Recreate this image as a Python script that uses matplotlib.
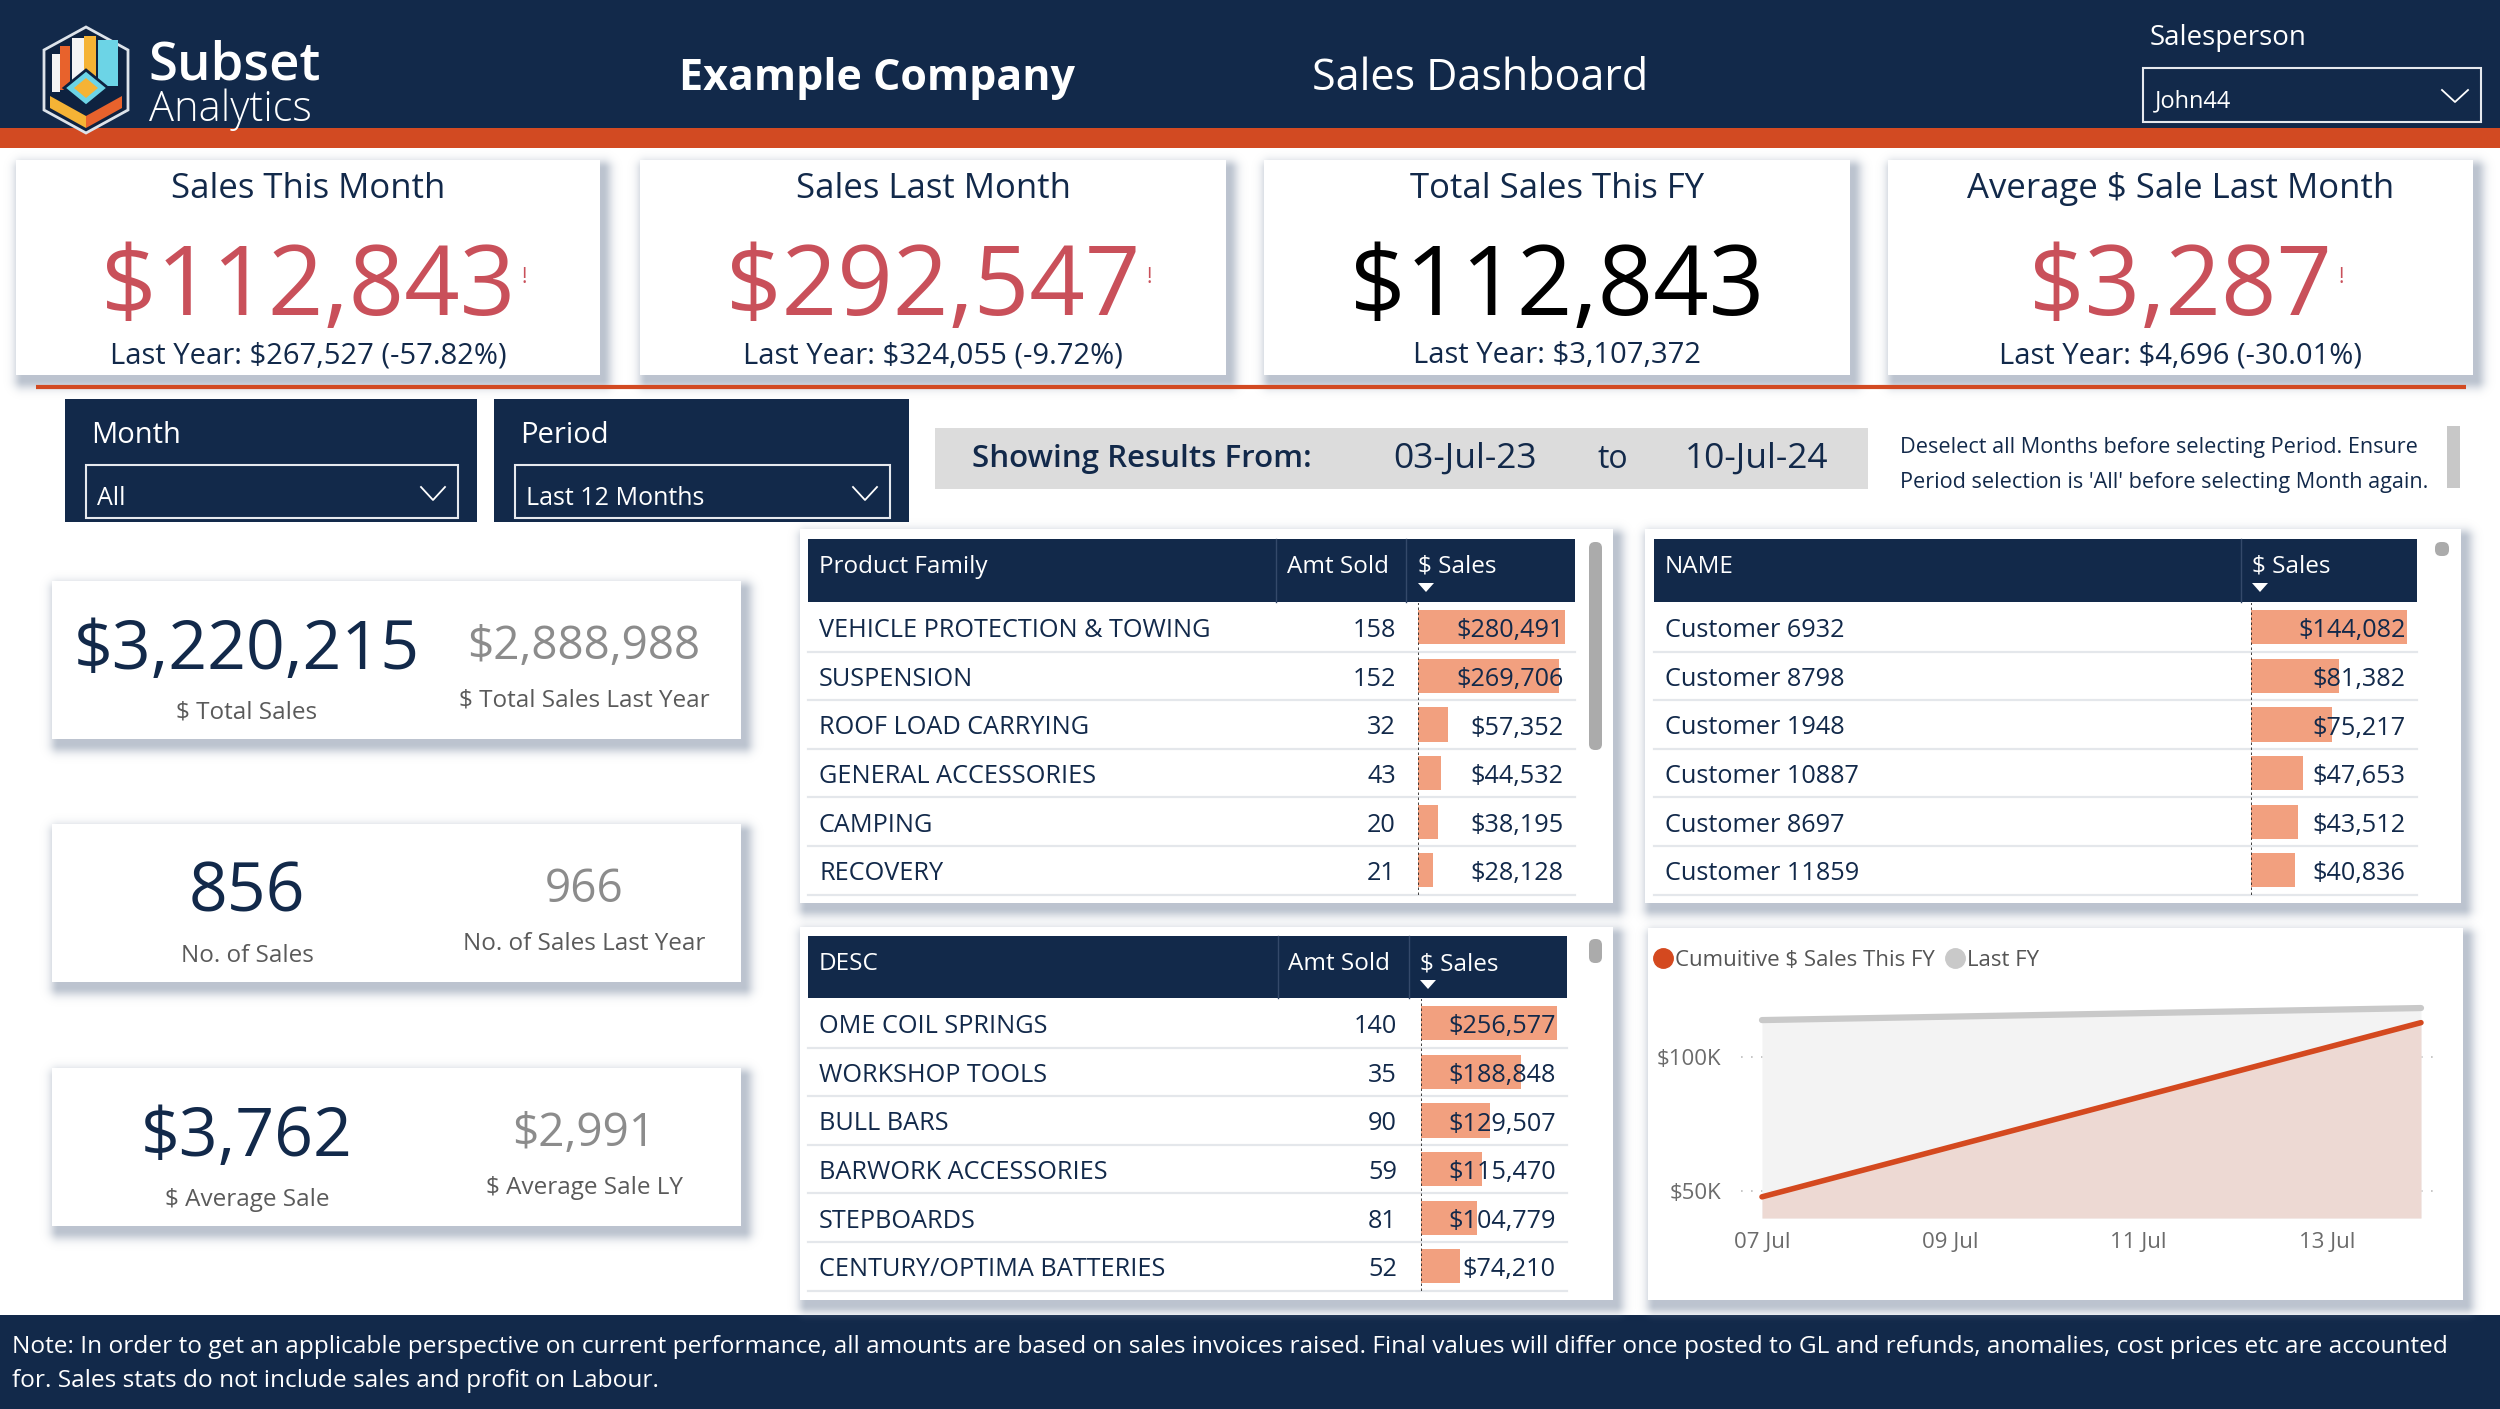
import matplotlib
matplotlib.use('Agg')
import matplotlib.pyplot as plt
from matplotlib.patches import Rectangle, Polygon, FancyBboxPatch
from matplotlib.lines import Line2D
import matplotlib.transforms as mtransforms
import matplotlib.dates as mdates
import matplotlib.colors as mcolors
import numpy as np
import datetime as dt

plt.rcParams['font.family'] = ['Open Sans', 'DejaVu Sans']

W, H = 2500, 1409
NAVY = '#12294A'
ORANGE = '#D24A22'
RED = '#C9505A'
SALMON = '#F2A07F'
GREY_VAL = '#8C8C8C'
LABEL_GREY = '#5A5A5A'

# ---------------- data ----------------
company = 'Example Company'
dashboard = 'Sales Dashboard'
salesperson = 'John44'

kpi_titles = ['Sales This Month', 'Sales Last Month', 'Total Sales This FY', 'Average $ Sale Last Month']
kpi_values = [112843, 292547, 112843, 3287]
kpi_last_year = [267527, 324055, 3107372, 4696]
kpi_pct = [-57.82, -9.72, None, -30.01]
kpi_flag = [True, True, False, True]

month_sel = 'All'
period_sel = 'Last 12 Months'
date_from = '03-Jul-23'
date_to = '10-Jul-24'
note_lines = ["Deselect all Months before selecting Period. Ensure",
              "Period selection is 'All' before selecting Month again."]

summary_labels = ['$ Total Sales', 'No. of Sales', '$ Average Sale']
summary_ly_labels = ['$ Total Sales Last Year', 'No. of Sales Last Year', '$ Average Sale LY']
summary_values = [3220215, 856, 3762]
summary_ly_values = [2888988, 966, 2991]
summary_money = [True, False, True]

family_names = ['VEHICLE PROTECTION & TOWING', 'SUSPENSION', 'ROOF LOAD CARRYING',
                'GENERAL ACCESSORIES', 'CAMPING', 'RECOVERY']
family_amt = [158, 152, 32, 43, 20, 21]
family_sales = [280491, 269706, 57352, 44532, 38195, 28128]

customer_names = ['Customer 6932', 'Customer 8798', 'Customer 1948',
                  'Customer 10887', 'Customer 8697', 'Customer 11859']
customer_sales = [144082, 81382, 75217, 47653, 43512, 40836]

desc_names = ['OME COIL SPRINGS', 'WORKSHOP TOOLS', 'BULL BARS',
              'BARWORK ACCESSORIES', 'STEPBOARDS', 'CENTURY/OPTIMA BATTERIES']
desc_amt = [140, 35, 90, 59, 81, 52]
desc_sales = [256577, 188848, 129507, 115470, 104779, 74210]

cum_dates = ['2024-07-07', '2024-07-14']
cum_this_fy = [47800, 112843]
cum_last_fy = [113800, 118300]
legend_labels = ['Cumuitive $ Sales This FY', 'Last FY']
xtick_dates = ['2024-07-07', '2024-07-09', '2024-07-11', '2024-07-13']
ytick_vals = [50000, 100000]

footer_lines = ["Note: In order to get an applicable perspective on current performance, all amounts are based on sales invoices raised. Final values will differ once posted to GL and refunds, anomalies, cost prices etc are accounted",
                "for. Sales stats do not include sales and profit on Labour."]

# ---------------- figure ----------------
fig = plt.figure(figsize=(W / 100, H / 100), dpi=100)
fig.patch.set_facecolor('white')
cv = fig.add_axes([0, 0, 1, 1])
cv.set_xlim(0, W)
cv.set_ylim(H, 0)
cv.axis('off')


def rect(x0, y0, x1, y1, fc, ec='none', lw=0, z=1, **kw):
    cv.add_patch(Rectangle((x0, y0), x1 - x0, y1 - y0, facecolor=fc, edgecolor=ec, linewidth=lw, zorder=z, **kw))


SH_RGB = mcolors.to_rgb('#8593A8')


def shadow(x0, y0, x1, y1, dx=7, dy=9, sigma=9.0, a0=0.55, z=1):
    m = 40
    xs = np.arange(x0 - m, x1 + m) + 0.5
    ys = np.arange(y0 - m, y1 + m) + 0.5
    X, Y = np.meshgrid(xs, ys)
    sx0, sx1, sy0, sy1 = x0 + dx, x1 + dx - 4, y0 + dy, y1 + dy - 4
    ddx = np.maximum(np.maximum(sx0 - X, X - sx1), 0)
    ddy = np.maximum(np.maximum(sy0 - Y, Y - sy1), 0)
    d = np.sqrt(ddx ** 2 + ddy ** 2)
    alpha = a0 * np.exp(-(d / sigma) ** 2)
    img = np.zeros(X.shape + (4,))
    img[..., 0], img[..., 1], img[..., 2] = SH_RGB
    img[..., 3] = alpha
    cv.imshow(img, extent=(x0 - m, x1 + m, y1 + m, y0 - m), zorder=z, interpolation='bilinear', aspect='auto')


def card(x0, y0, x1, y1, z=2):
    shadow(x0, y0, x1, y1, z=z - 0.5)
    rect(x0, y0, x1, y1, 'white', z=z)


def t(x, y, s, size, color=NAVY, ha='left', va='baseline', weight='normal', z=5, **kw):
    return cv.text(x, y, s, fontsize=size, color=color, ha=ha, va=va, fontweight=weight, zorder=z, **kw)


def px_axes(x0, y0, x1, y1):
    return fig.add_axes([x0 / W, 1 - y1 / H, (x1 - x0) / W, (y1 - y0) / H])


# ---------------- header ----------------
rect(0, 0, W, 128, NAVY, z=1)
rect(0, 128, W, 148, ORANGE, z=1)

# logo
cv.add_patch(Polygon([(86, 27), (128, 50), (128, 110), (86, 133), (44, 110), (44, 50)],
                     closed=True, facecolor='#0E2240', edgecolor='#DDE3EA', linewidth=2, zorder=3))
rect(52, 54, 60, 92, '#F4F4F4', z=4)
rect(60, 46, 70, 90, '#E8622C', z=4)
rect(72, 38, 84, 82, '#F4F4F4', z=4)
rect(84, 36, 96, 80, '#F5B335', z=4)
rect(98, 40, 118, 86, '#6CD4E6', z=4)
cv.add_patch(Polygon([(86, 70), (108, 88), (86, 106), (64, 88)], closed=True,
                     facecolor='#6CD4E6', edgecolor='#0E2240', linewidth=2, zorder=5))
cv.add_patch(Polygon([(86, 78), (98, 88), (86, 98), (74, 88)], closed=True,
                     facecolor='#F5B335', edgecolor='none', zorder=6))
cv.add_patch(Polygon([(50, 96), (86, 116), (86, 128), (50, 108)], closed=True,
                     facecolor='#F5B335', edgecolor='none', zorder=4))
cv.add_patch(Polygon([(86, 116), (122, 96), (122, 108), (86, 128)], closed=True,
                     facecolor='#E8622C', edgecolor='none', zorder=4))

t(148, 80, 'Subset', 38, 'white', weight='semibold')
t(149, 121, 'Analytics', 30, 'white', weight='light')
t(877, 90, company, 31, 'white', ha='center', weight='bold')
t(1480, 90, dashboard, 31, 'white', ha='center')
t(2150, 45, 'Salesperson', 20, 'white')
rect(2143, 68, 2481, 122, 'none', ec='#E6E9EE', lw=1.5, z=4)
t(2155, 107, salesperson, 17, 'white')
cv.plot([2442, 2455, 2468], [90, 102, 90], color='white', lw=1.3, zorder=5)

# ---------------- KPI cards ----------------
card_x = [(16, 600), (640, 1226), (1264, 1850), (1888, 2473)]
renderer = fig.canvas.get_renderer()
for i, (x0, x1) in enumerate(card_x):
    card(x0, 160, x1, 375)
    cx = (x0 + x1) / 2
    t(cx, 198, kpi_titles[i], 25, ha='center')
    col = RED if kpi_flag[i] else 'black'
    vt = t(cx, 315, f'${kpi_values[i]:,}', 70, col, ha='center')
    sub = f'Last Year: ${kpi_last_year[i]:,}'
    if kpi_pct[i] is not None:
        sub += f' ({kpi_pct[i]:.2f}%)'
    t(cx, 363, sub, 21, ha='center')
    if kpi_flag[i]:
        bb = vt.get_window_extent(renderer)
        t(bb.x1 + 6, 283, '!', 15, RED, ha='left')
cv.plot([36, 2466], [386.5, 386.5], color=ORANGE, lw=3, zorder=3, solid_capstyle='butt')

# ---------------- slicers ----------------
for (x0, x1, dx1, title, sel) in [(65, 477, 458, 'Month', month_sel), (494, 909, 890, 'Period', period_sel)]:
    rect(x0, 399, x1, 522, NAVY, z=2)
    t(x0 + 26, 443, title, 21, 'white')
    rect(x0 + 21, 465, dx1, 518, 'none', ec='#E6E9EE', lw=1.5, z=3)
    t(x0 + 32, 505, sel, 18, 'white')
    cv.plot([dx1 - 37, dx1 - 25, dx1 - 13], [487, 500, 487], color='white', lw=1.3, zorder=4)

rect(935, 428, 1868, 489, '#DCDCDC', z=2)
t(972, 467, 'Showing Results From:', 22.5, NAVY, weight='semibold')
t(1465, 468, date_from, 25.5, ha='center')
t(1613, 468, 'to', 23, ha='center')
t(1757, 468, date_to, 25.5, ha='center')
t(1900, 453, note_lines[0], 15.6)
t(1900, 488, note_lines[1], 15.6)
rect(2447, 426, 2460, 488, '#C8C8C8', z=2)

# ---------------- summary cards ----------------
for i, y0 in enumerate([581, 824, 1068]):
    card(52, y0, 741, y0 + 158)
    fmt = (lambda v: f'${v:,}') if summary_money[i] else (lambda v: f'{v:,}')
    t(247, y0 + 88, fmt(summary_values[i]), 49, NAVY, ha='center')
    t(247, y0 + 138, summary_labels[i], 17.5, LABEL_GREY, ha='center')
    t(584, y0 + 78, fmt(summary_ly_values[i]), 33, GREY_VAL, ha='center')
    t(584, y0 + 126, summary_ly_labels[i], 17.5, LABEL_GREY, ha='center')


# ---------------- tables ----------------
def table(box, head, seps, headers, names, amts, sales, amt_right, bar_span, scroll, row_h=48.6):
    bx0, by0, bx1, by1 = box
    hx0, hy0, hx1, hy1 = head
    card(bx0, by0, bx1, by1)
    rect(hx0, hy0, hx1, hy1, NAVY, z=3)
    for sx in seps:
        cv.plot([sx, sx], [hy0, hy1], color='#34496A', lw=1, zorder=4)
    for (hx, label) in headers:
        t(hx, hy0 + 34, label, 17.5, 'white')
    tx = headers[-1][0]
    cv.add_patch(Polygon([(tx, hy0 + 44), (tx + 16, hy0 + 44), (tx + 8, hy0 + 53)], closed=True,
                         facecolor='white', edgecolor='none', zorder=5))
    row_top = hy1 + 1
    n = len(names)
    for i in range(n):
        c = row_top + (i + 0.5) * row_h
        t(hx0 + 11, c + 10, names[i], 18.2)
        if amts is not None:
            t(amt_right, c + 10, f'{amts[i]}', 18.2, ha='right')
        yl = row_top + (i + 1) * row_h
        cv.plot([hx0, hx1], [yl, yl], color='#E4E7EB', lw=1.6, zorder=3)
    rx0, ry0, rx1, ry1 = scroll
    cv.add_patch(FancyBboxPatch((rx0, ry0), rx1 - rx0, ry1 - ry0,
                                boxstyle='round,pad=0,rounding_size=6',
                                facecolor='#ABABAB', edgecolor='none', zorder=4))
    ax = px_axes(bar_span[0], row_top, bar_span[1], row_top + n * row_h)
    ax.set_facecolor('none')
    ax.barh(range(n), sales, height=0.7, color=SALMON, zorder=2)
    ax.set_xlim(0, max(sales))
    ax.set_ylim(n - 0.5, -0.5)
    ax.axvline(0, color='#222222', lw=1.2, ls=(0, (1.5, 1.5)), zorder=3)
    ax.axis('off')
    width_px = bar_span[1] - bar_span[0]
    tr = mtransforms.blended_transform_factory(ax.transAxes, ax.transData)
    for i, v in enumerate(sales):
        ax.text(1 - 1.5 / width_px, i + 10 / row_h, f'${v:,}', transform=tr, ha='right', va='baseline',
                fontsize=18.2, color=NAVY, zorder=4, clip_on=False)
    return ax


table((800, 529, 1613, 903), (808, 539, 1575, 602), [1276, 1406],
      [(819, 'Product Family'), (1287, 'Amt Sold'), (1418, '$ Sales')],
      family_names, family_amt, family_sales, 1396, (1418, 1565), (1589, 542, 1602, 750))
table((1645, 529, 2461, 903), (1654, 539, 2417, 602), [2241],
      [(1665, 'NAME'), (2252, '$ Sales')],
      customer_names, None, customer_sales, None, (2251, 2407), (2435, 542, 2449, 556))
table((800, 927, 1613, 1300), (808, 936, 1567, 998), [1278, 1409],
      [(819, 'DESC'), (1288, 'Amt Sold'), (1420, '$ Sales')],
      desc_names, desc_amt, desc_sales, 1397, (1421, 1557), (1589, 939, 1602, 963))

# ---------------- line chart ----------------
card(1648, 928, 2463, 1300)
ax = px_axes(1741, 1000, 2435, 1218)
ax.set_facecolor('none')
xd = [mdates.date2num(dt.datetime.strptime(d, '%Y-%m-%d')) for d in cum_dates]
ybot = 39900
ax.fill_between(xd, cum_last_fy, ybot, color='#F3F3F3', lw=0, zorder=1)
ax.fill_between(xd, cum_this_fy, ybot, color='#EDD9D3', lw=0, zorder=2)
ax.plot(xd, cum_last_fy, color='#C9C9C9', lw=4.5, solid_capstyle='round', zorder=3)
ax.plot(xd, cum_this_fy, color='#D4491F', lw=4, solid_capstyle='round', zorder=4)
ax.set_xlim(xd[0] - 0.223, xd[-1] + 0.149)
ax.set_ylim(ybot, 121300)
ax.set_yticks(ytick_vals)
ax.set_yticklabels([f'${v // 1000}K' for v in ytick_vals])
ax.set_xticks([mdates.date2num(dt.datetime.strptime(d, '%Y-%m-%d')) for d in xtick_dates])
ax.xaxis.set_major_formatter(mdates.DateFormatter('%d %b'))
ax.tick_params(axis='both', length=0, labelsize=16, labelcolor='#6B6B6B')
ax.tick_params(axis='y', pad=14)
ax.tick_params(axis='x', pad=10)
ax.grid(axis='y', color='#BDBDBD', ls=(0, (1, 5)), lw=1.2)
ax.set_axisbelow(True)
for s in ax.spines.values():
    s.set_visible(False)
handles = [Line2D([], [], ls='none', marker='o', markersize=14, color='#D4491F'),
           Line2D([], [], ls='none', marker='o', markersize=14, color='#C9C9C9')]
ax.legend(handles, legend_labels, loc='center left', bbox_to_anchor=(1652 / W, 1 - 960 / H),
          bbox_transform=fig.transFigure, ncol=2, frameon=False, fontsize=16,
          handletextpad=0.05, columnspacing=0.4, borderaxespad=0, borderpad=0, handlelength=1.0,
          labelcolor='#555555')

# ---------------- footer ----------------
rect(0, 1315, W, H, NAVY, z=1)
t(12, 1353, footer_lines[0], 17.6, 'white')
t(12, 1387, footer_lines[1], 17.6, 'white')

fig.savefig('out.png', dpi=100, facecolor='white')
